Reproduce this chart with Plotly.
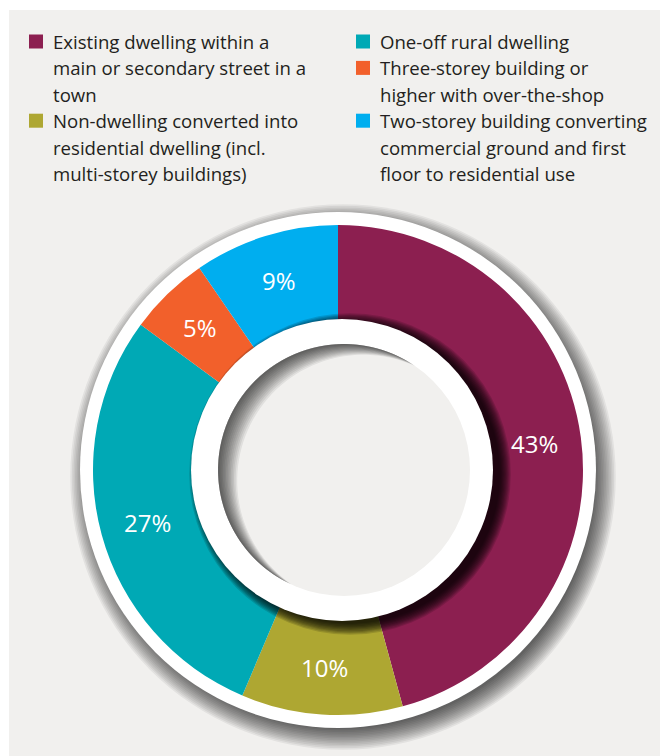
import math
import plotly.graph_objects as go

# ---- data -------------------------------------------------------------
categories = [
    "Existing dwelling within a<br>main or secondary street in a<br>town",
    "Non-dwelling converted into<br>residential dwelling (incl.<br>multi-storey buildings)",
    "One-off rural dwelling",
    "Three-storey building or<br>higher with over-the-shop",
    "Two-storey building converting<br>commercial ground and first<br>floor to residential use",
]
shares = [43, 10, 27, 5, 9]
colors = ["#8c1f50", "#aea732", "#00a9b5", "#f2602b", "#00aeef"]
legend_columns = [0, 0, 1, 1, 1]

# ---- geometry (pixels) -----------------------------------------------
W, H = 660, 756
PANEL = "#f1f0ee"
TEXT = "#231f20"
FONT = "Open Sans"

CX, CY = 338, 470          # donut centre
R_OUT = 245                # coloured ring outer radius
RIM = 13                   # white rim around the donut
IN_CX, IN_R = 342, 151     # inner white ring
HOLE_CX, HOLE_R = 344, 126 # grey hole


def fx(x):
    return x / W


def fy(y):
    return 1 - y / H


def circle(cx, cy, r, color, opacity=1.0, layer="below"):
    return dict(type="circle", xref="paper", yref="paper",
                x0=fx(cx - r), x1=fx(cx + r), y0=fy(cy + r), y1=fy(cy - r),
                fillcolor=color, line=dict(width=0), opacity=opacity, layer=layer)


def crescent(cx, cy, r, sx, sy, n=60):
    """Part of circle (cx,cy,r) not covered by the same circle shifted by (sx,sy)."""
    d = math.hypot(sx, sy)
    u = math.atan2(sy, sx)
    a = math.acos(min(1.0, d / 2 / r))
    pts = []
    for i in range(n + 1):
        t = u + a + (2 * math.pi - 2 * a) * i / n
        pts.append((cx + r * math.cos(t), cy + r * math.sin(t)))
    bx, by = cx + sx, cy + sy
    for i in range(n + 1):
        t = u + math.pi + a - 2 * a * i / n
        pts.append((bx + r * math.cos(t), by + r * math.sin(t)))
    path = "M " + " L ".join(f"{fx(x):.5f},{fy(y):.5f}" for x, y in pts) + " Z"
    return path


shapes = []
# grey panel
shapes.append(dict(type="rect", xref="paper", yref="paper",
                   x0=fx(9), x1=1, y0=0, y1=fy(10),
                   fillcolor=PANEL, line=dict(width=0), layer="below"))
# drop shadow of the outer rim
for i in range(14):
    shapes.append(circle(CX + 5, CY + 7, R_OUT + RIM - 6 + i * 1.6, "black", 0.06))
# outer white rim
shapes.append(circle(CX, CY, R_OUT + RIM, "white"))

# shadow cast by the inner ring onto the coloured band
for i in range(10):
    shapes.append(circle(IN_CX + 8, CY + 4, IN_R - 1 + i * 1.2, "black", 0.14, layer="above"))
# inner white ring
shapes.append(circle(IN_CX, CY, IN_R, "white", layer="above"))
# hole
shapes.append(circle(HOLE_CX, CY, HOLE_R, PANEL, layer="above"))
# inner shadow of the hole
for k in range(1, 13):
    shapes.append(dict(type="path", xref="paper", yref="paper",
                       path=crescent(HOLE_CX, CY, HOLE_R, 1.6 * k, 0.9 * k),
                       fillcolor="black", line=dict(width=0), opacity=0.07, layer="above"))

fig = go.Figure()
fig.add_trace(go.Pie(
    values=shares,
    labels=[c.replace("<br>", " ") for c in categories],
    marker=dict(colors=colors, line=dict(width=0)),
    sort=False, direction="clockwise", rotation=0,
    hole=0.55, textinfo="none", hoverinfo="label+value",
    showlegend=False,
    domain=dict(x=[fx(CX - R_OUT), fx(CX + R_OUT)],
                y=[fy(CY + R_OUT), fy(CY - R_OUT)]),
))

annotations = []
# value labels at the middle of each slice
total = sum(shares)
r_lab = (R_OUT + IN_R) / 2
cum = 0
for v in shares:
    theta = 2 * math.pi * (cum + v / 2) / total
    cum += v
    annotations.append(dict(
        x=fx(CX + r_lab * math.sin(theta)), y=fy(CY - r_lab * math.cos(theta)),
        xref="paper", yref="paper", text=f"{v}%", showarrow=False,
        xanchor="center", yanchor="middle",
        font=dict(family=FONT, size=24, color="white")))

# legend in two columns
COL_SQ_X = [29, 356]
COL_TX_X = [51, 378]
LINE0, LINE_H, SQ = 41.5, 26.4, 14
line_pos = [0, 0]
for name, col, c in zip(categories, legend_columns, colors):
    lines = name.split("<br>")
    y_first = LINE0 + line_pos[col] * LINE_H
    shapes.append(dict(type="rect", xref="paper", yref="paper",
                       x0=fx(COL_SQ_X[col]), x1=fx(COL_SQ_X[col] + SQ),
                       y0=fy(y_first + SQ / 2), y1=fy(y_first - SQ / 2),
                       fillcolor=c, line=dict(width=0), layer="above"))
    for k, ln in enumerate(lines):
        annotations.append(dict(
            x=fx(COL_TX_X[col]), y=fy(y_first + k * LINE_H),
            xref="paper", yref="paper", text=ln, showarrow=False,
            xanchor="left", yanchor="middle",
            font=dict(family=FONT, size=18.6, color=TEXT)))
    line_pos[col] += len(lines)

fig.update_layout(
    width=W, height=H,
    margin=dict(l=0, r=0, t=0, b=0),
    paper_bgcolor="white", plot_bgcolor="white",
    shapes=shapes, annotations=annotations,
    showlegend=False,
)

fig.write_html("out.html")
